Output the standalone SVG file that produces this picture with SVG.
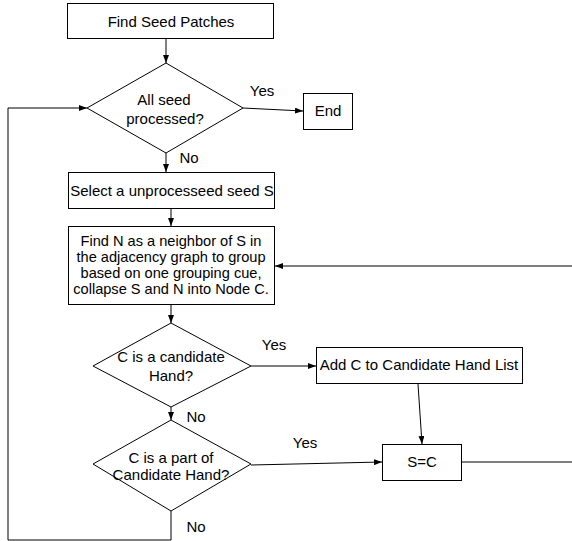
<svg xmlns="http://www.w3.org/2000/svg" width="572" height="541" viewBox="0 0 572 541">
<style>
.box{fill:#fff;stroke:#000;stroke-width:1}
.t{font-family:"Liberation Sans",Arial,sans-serif;font-size:15px;fill:#000;text-anchor:middle}
.s{font-size:14.6px}
.l{font-family:"Liberation Sans",Arial,sans-serif;font-size:15px;fill:#000;text-anchor:middle}
.c{fill:none;stroke:#000;stroke-width:1}
</style>
<defs>
<marker id="ah" markerUnits="userSpaceOnUse" markerWidth="8" markerHeight="6" refX="8" refY="3" orient="auto">
<path d="M0,0 L8,3 L0,6 z" fill="#000"/>
</marker>
</defs>
<rect width="572" height="541" fill="#fff"/>
<g id="connectors">
<line class="c" x1="166" y1="39" x2="166" y2="63" marker-end="url(#ah)"/>
<line class="c" x1="243" y1="108" x2="303" y2="111" marker-end="url(#ah)"/>
<line class="c" x1="166" y1="153" x2="166" y2="172" marker-end="url(#ah)"/>
<line class="c" x1="171" y1="209" x2="171" y2="226" marker-end="url(#ah)"/>
<line class="c" x1="572" y1="266" x2="275" y2="266" marker-end="url(#ah)"/>
<line class="c" x1="171" y1="305" x2="171" y2="323" marker-end="url(#ah)"/>
<line class="c" x1="251" y1="366" x2="316" y2="366" marker-end="url(#ah)"/>
<line class="c" x1="418" y1="384" x2="422" y2="444" marker-end="url(#ah)"/>
<line class="c" x1="171" y1="407" x2="171" y2="420" marker-end="url(#ah)"/>
<line class="c" x1="251" y1="465" x2="382" y2="462" marker-end="url(#ah)"/>
<line class="c" x1="462" y1="462" x2="572" y2="462"/>
<polyline class="c" points="171,511 171,540 8,540 8,108 87,108" marker-end="url(#ah)"/>
<text class="l" x="262" y="96">Yes</text>
<text class="l" x="189" y="163">No</text>
<text class="l" x="274" y="350">Yes</text>
<text class="l" x="196" y="422">No</text>
<text class="l" x="305" y="448">Yes</text>
<text class="l" x="196" y="532">No</text>
</g>
<g id="find-seed">
<rect class="box" x="67.5" y="3.5" width="206" height="35"/>
<text class="t" x="171" y="27">Find Seed Patches</text>
</g>
<g id="all-seed">
<polygon class="box" points="166,63 243,108 166,153 87,108"/>
<text class="t" x="164" y="105">All seed</text>
<text class="t" x="165" y="124">processed?</text>
</g>
<g id="end">
<rect class="box" x="303.5" y="93.5" width="49" height="36"/>
<text class="t" x="328" y="116">End</text>
</g>
<g id="select">
<rect class="box" x="68.5" y="172.5" width="206" height="36"/>
<text class="t" x="172" y="196">Select a unprocesseed seed S</text>
</g>
<g id="find-n">
<rect class="box" x="68.5" y="226.5" width="206" height="78"/>
<text class="t s" x="171" y="245.5">Find N as a neighbor of S in</text>
<text class="t s" x="171" y="261.8">the adjacency graph to group</text>
<text class="t s" x="171" y="278.1">based on one grouping cue,</text>
<text class="t s" x="171" y="294.4">collapse S and N into Node C.</text>
</g>
<g id="candidate">
<polygon class="box" points="171,323 251,366 171,407 93,366"/>
<text class="t" x="171" y="362">C is a candidate</text>
<text class="t" x="171" y="381">Hand?</text>
</g>
<g id="add-c">
<rect class="box" x="316.5" y="347.5" width="206" height="36"/>
<text class="t" x="419" y="370">Add C to Candidate Hand List</text>
</g>
<g id="part-of">
<polygon class="box" points="171,420 251,464 171,511 93,464"/>
<text class="t" x="171" y="463">C is a part of</text>
<text class="t" x="171" y="480">Candidate Hand?</text>
</g>
<g id="s-eq-c">
<rect class="box" x="382.5" y="444.5" width="79" height="36"/>
<text class="t" x="422" y="467">S=C</text>
</g>
</svg>
